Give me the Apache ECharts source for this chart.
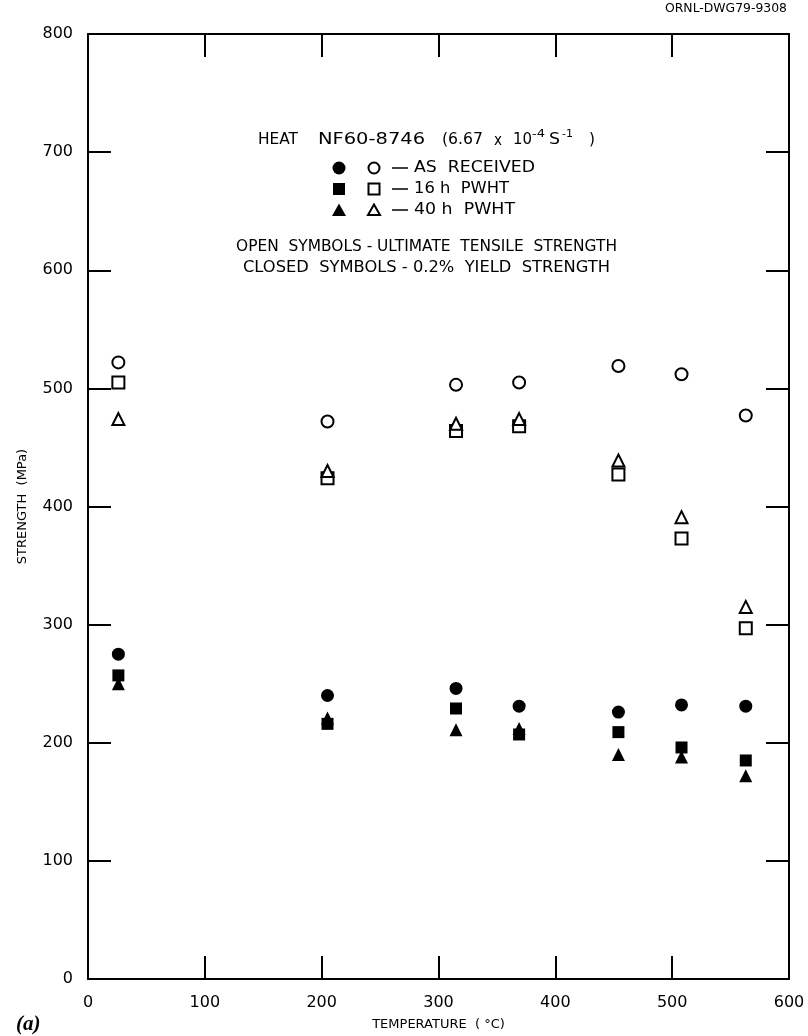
<!DOCTYPE html>
<html>
<head>
<meta charset="utf-8">
<script src="https://cdn.jsdelivr.net/npm/echarts@6/dist/echarts.min.js"></script>
<style>
html,body{margin:0;padding:0;background:#fff;}
#chart{width:808px;height:1036px;}
</style>
</head>
<body>
<div id="chart"></div>
<script>
// Test temperatures (°C)
var temperatures = [26, 205, 315, 369, 454, 508, 563];
// Ultimate tensile strength (MPa) - open symbols
var utsAsReceived = [522, 472, 503, 505, 519, 512, 477];
var uts16hPWHT   = [505, 424, 464, 468, 427, 373, 297];
var uts40hPWHT   = [474, 430, 470, 474, 439, 391, 315];
// 0.2% yield strength (MPa) - closed symbols
var ysAsReceived = [275, 240, 246, 231, 226, 232, 231];
var ys16hPWHT    = [257, 216, 229, 207, 209, 196, 185];
var ys40hPWHT    = [250, 221, 211, 212, 190, 188, 172];
// Axis ticks
var xTicks = [0, 100, 200, 300, 400, 500, 600];
var yTicks = [0, 100, 200, 300, 400, 500, 600, 700, 800];

function pairs(xs, ys){ return xs.map(function(x,i){ return [x, ys[i]]; }); }

var FONT = 'DejaVu Sans';
var chart = echarts.init(document.getElementById('chart'));

function openSeries(name, symbol, size, vals){
  return {name:name, type:'scatter', symbol:symbol, symbolSize:size, data:pairs(temperatures, vals),
    itemStyle:{color:'#ffffff', borderColor:'#000', borderWidth:2, opacity:1}, z:3};
}
function closedSeries(name, symbol, size, vals){
  return {name:name, type:'scatter', symbol:symbol, symbolSize:size, data:pairs(temperatures, vals),
    itemStyle:{color:'#000', borderColor:'#000', borderWidth:0, opacity:1}, z:4};
}

var axisLine = {show:true, onZero:false, lineStyle:{color:'#000', width:2}};
var axisTick = {show:true, inside:true, length:23, lineStyle:{color:'#000', width:2}};

var measureCtx = document.createElement('canvas').getContext('2d');
function measure(s, size){
  measureCtx.font = size + 'px "' + FONT + '"';
  return measureCtx.measureText(s).width;
}
// text starting at x (left) stretched horizontally to a given width
function fitText(x, y, s, size, width){
  var w = measure(s, size);
  return {type:'text', x:x, y:y, scaleX: width ? width / w : 1,
    style:{text:s, font:size+'px "'+FONT+'"', fill:'#000', align:'left', verticalAlign:'middle'}};
}

var legendX1 = 339, legendX2 = 374, rows = [168, 189, 210];
var graphics = [
  fitText(665, 9, 'ORNL-DWG79-9308', 13, 122),
  // title line with superscripts
  fitText(258, 140, 'HEAT', 15, 40),
  fitText(318, 140, 'NF60-8746', 15, 107),
  fitText(442, 140, '(6.67', 15, 41),
  fitText(494, 141, 'x', 15, 8),
  fitText(513, 140, '10', 15, 19),
  fitText(532, 134, '-4', 11, 13),
  fitText(549, 140, 'S', 15, 11),
  fitText(562, 134, '-1', 11, 11),
  fitText(589, 140, ')', 15, 6),
  // row 1
  {type:'circle', shape:{cx:legendX1, cy:rows[0], r:6.5}, style:{fill:'#000'}},
  {type:'circle', shape:{cx:legendX2, cy:rows[0], r:5.5}, style:{fill:'#fff', stroke:'#000', lineWidth:2}},
  // row 2
  {type:'rect', shape:{x:legendX1-6, y:rows[1]-6, width:12, height:12}, style:{fill:'#000'}},
  {type:'rect', shape:{x:legendX2-5.5, y:rows[1]-5.5, width:11, height:11}, style:{fill:'#fff', stroke:'#000', lineWidth:2}},
  // row 3
  {type:'polygon', shape:{points:[[legendX1,rows[2]-6.5],[legendX1+7,rows[2]+6],[legendX1-7,rows[2]+6]]}, style:{fill:'#000'}},
  {type:'polygon', shape:{points:[[legendX2,rows[2]-5.5],[legendX2+6,rows[2]+5],[legendX2-6,rows[2]+5]]}, style:{fill:'#fff', stroke:'#000', lineWidth:2}},
  fitText(236, 247, 'OPEN  SYMBOLS - ULTIMATE  TENSILE  STRENGTH', 15, 381),
  fitText(243, 268, 'CLOSED  SYMBOLS - 0.2%  YIELD  STRENGTH', 15, 367),
  {type:'text', x:16, y:1025, style:{text:'(a)', font:'italic bold 21px "Liberation Serif"', fill:'#000', verticalAlign:'middle'}}
];
var legendLabels = ['AS  RECEIVED', '16 h  PWHT', '40 h  PWHT'];
var legendWidths = [121, 95, 101];
legendLabels.forEach(function(t, i){
  graphics.push({type:'line', shape:{x1:392, y1:rows[i], x2:408, y2:rows[i]}, style:{stroke:'#000', lineWidth:1.5}});
  graphics.push(fitText(414, rows[i], t, 15, legendWidths[i]));
});

chart.setOption({
  animation:false,
  backgroundColor:'#fff',
  grid:{left:88, right:19, top:34, bottom:57, containLabel:false},
  xAxis:[
    {type:'value', min:0, max:600, interval:100, position:'bottom',
     name:'TEMPERATURE  ( °C)', nameLocation:'middle', nameGap:39,
     nameTextStyle:{fontFamily:FONT, fontSize:13, color:'#000'},
     axisLine:axisLine, axisTick:axisTick, splitLine:{show:false},
     axisLabel:{fontFamily:FONT, fontSize:16, color:'#000', margin:16,
       formatter:function(v){ return xTicks.indexOf(v) >= 0 ? String(v) : ''; }}},
    {type:'value', min:0, max:600, interval:100, position:'top',
     axisLine:axisLine, axisTick:axisTick, splitLine:{show:false}, axisLabel:{show:false}}
  ],
  yAxis:[
    {type:'value', min:0, max:800, interval:100, position:'left',
     name:'STRENGTH  (MPa)', nameLocation:'middle', nameGap:59, nameRotate:90,
     nameTextStyle:{fontFamily:FONT, fontSize:13, color:'#000'},
     axisLine:axisLine, axisTick:axisTick, splitLine:{show:false},
     axisLabel:{fontFamily:FONT, fontSize:16, color:'#000', margin:15,
       formatter:function(v){ return yTicks.indexOf(v) >= 0 ? String(v) : ''; }}},
    {type:'value', min:0, max:800, interval:100, position:'right',
     axisLine:axisLine, axisTick:axisTick, splitLine:{show:false}, axisLabel:{show:false}}
  ],
  series:[
    openSeries('UTS as received', 'circle', 12, utsAsReceived),
    openSeries('UTS 16 h PWHT', 'rect', 12, uts16hPWHT),
    openSeries('UTS 40 h PWHT', 'triangle', 12, uts40hPWHT),
    closedSeries('YS as received', 'circle', 13, ysAsReceived),
    closedSeries('YS 16 h PWHT', 'rect', 12, ys16hPWHT),
    closedSeries('YS 40 h PWHT', 'triangle', 13, ys40hPWHT)
  ],
  graphic:graphics
});
</script>
</body>
</html>
